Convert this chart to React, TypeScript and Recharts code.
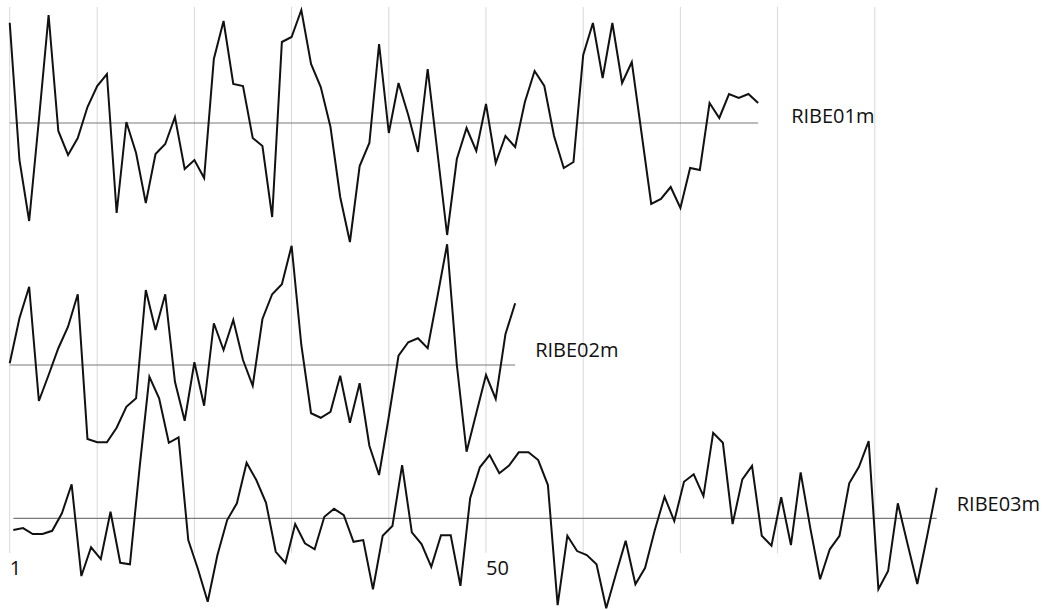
import React from 'react';
import { LineChart, Line, XAxis, YAxis, ReferenceLine, ReferenceDot } from 'recharts';

// Tree-ring index values (mean = 1.0), one value per year
const ribe01m = [
  1.401, 0.852, 0.608, 1.012, 1.432, 0.968, 0.872, 0.94, 1.064, 1.148,
  1.196, 0.64, 1.004, 0.88, 0.68, 0.876, 0.916, 1.024, 0.816, 0.852,
  0.78, 1.256, 1.408, 1.156, 1.148, 0.94, 0.908, 0.624, 1.324, 1.344,
  1.452, 1.236, 1.144, 0.984, 0.704, 0.524, 0.828, 0.92, 1.316, 0.96,
  1.16, 1.032, 0.884, 1.216, 0.884, 0.552, 0.856, 0.98, 0.888, 1.076,
  0.84, 0.948, 0.904, 1.084, 1.208, 1.148, 0.948, 0.82, 0.844, 1.272,
  1.4, 1.18, 1.4, 1.16, 1.244, 0.96, 0.676, 0.696, 0.744, 0.66,
  0.82, 0.812, 1.08, 1.02, 1.116, 1.1, 1.116, 1.08,
];

const ribe02m = [
  1.007, 1.187, 1.313, 0.856, 0.96, 1.067, 1.153, 1.283, 0.704, 0.691,
  0.691, 0.749, 0.833, 0.867, 1.3, 1.14, 1.283, 0.933, 0.777, 1.011,
  0.837, 1.167, 1.06, 1.18, 1.02, 0.917, 1.184, 1.283, 1.323, 1.477,
  1.08, 0.807, 0.789, 0.813, 0.957, 0.769, 0.927, 0.677, 0.56, 0.793,
  1.037, 1.091, 1.107, 1.067, 1.273, 1.483, 1.0, 0.653, 0.807, 0.96,
  0.864, 1.123, 1.247,
];

const ribe03m = [
  0.953, 0.961, 0.937, 0.937, 0.95, 1.02, 1.136, 0.769, 0.884, 0.837,
  1.026, 0.822, 0.816, 1.206, 1.566, 1.48, 1.302, 1.324, 0.913, 0.796,
  0.666, 0.853, 0.993, 1.06, 1.222, 1.153, 1.062, 0.866, 0.822, 0.977,
  0.9, 0.876, 1.006, 1.038, 1.013, 0.906, 0.913, 0.716, 0.93, 0.969,
  1.213, 0.944, 0.897, 0.806, 0.932, 0.932, 0.73, 1.08, 1.204, 1.253,
  1.18, 1.211, 1.264, 1.264, 1.233, 1.133, 0.653, 0.93, 0.869, 0.853,
  0.816, 0.64, 0.777, 0.91, 0.736, 0.802, 0.953, 1.086, 0.989, 1.146,
  1.176, 1.089, 1.342, 1.302, 0.977, 1.156, 1.21, 0.93, 0.89, 1.084,
  0.893, 1.184, 0.96, 0.756, 0.876, 0.93, 1.14, 1.206, 1.309, 0.716,
  0.789, 1.06, 0.897, 0.737, 0.926, 1.122,
];

const seriesNames = ['RIBE01m', 'RIBE02m', 'RIBE03m'];
const gridYears = [1, 10, 20, 30, 40, 50, 60, 70, 80, 90];
const tickYears = [1, 50];

// layout
const W = 1047;
const H = 610;
const PX_PER_YEAR = 9.72;
const PX_PER_UNIT = 250;
const X_MAX = W / PX_PER_YEAR;
const Y_MAX = H / PX_PER_UNIT;
const BASE_PX = [123, 365, 518.3];
const OFFSETS = BASE_PX.map((p) => (H - p) / PX_PER_UNIT);
const STARTS = [1, 1, 1.37];
const GRID_TOP = (H - 7) / PX_PER_UNIT;
const GRID_BOTTOM = (H - 553) / PX_PER_UNIT;
const TICK_LABEL_DY = 22;
const LABEL_SHIFT = [
  { dx: 33, dy: 0 },
  { dx: 20, dy: -7.7 },
  { dx: 20, dy: -7.6 },
];
const FONT = '"Open Sans", sans-serif';
const TEXT_COLOR = '#111';

const series = [ribe01m, ribe02m, ribe03m].map((vals, k) =>
  vals.map((v, i) => ({ x: STARTS[k] + i, y: OFFSETS[k] + v - 1 }))
);

export default function App() {
  return (
    <div style={{ position: 'absolute', left: 0, top: 0, width: W, height: H, background: '#fff' }}>
      <LineChart width={W} height={H} margin={{ top: 0, right: 0, bottom: 0, left: 0 }}>
        <XAxis type="number" dataKey="x" domain={[0, X_MAX]} hide height={0} />
        <YAxis type="number" domain={[0, Y_MAX]} hide width={0} />
        {gridYears.map((yr) => (
          <ReferenceLine
            key={'g' + yr}
            segment={[
              { x: yr, y: GRID_TOP },
              { x: yr, y: GRID_BOTTOM },
            ]}
            stroke="#d8d8d8"
            strokeWidth={1}
          />
        ))}
        {series.map((pts, k) => (
          <ReferenceLine
            key={'b' + k}
            segment={[
              { x: pts[0].x, y: OFFSETS[k] },
              { x: pts[pts.length - 1].x, y: OFFSETS[k] },
            ]}
            stroke="#7a7a7a"
            strokeWidth={1.2}
          />
        ))}
        {series.map((pts, k) => (
          <Line
            key={'l' + k}
            data={pts}
            dataKey="y"
            type="linear"
            stroke="#111"
            strokeWidth={2}
            dot={false}
            activeDot={false}
            isAnimationActive={false}
          />
        ))}
        {tickYears.map((yr) => (
          <ReferenceDot
            key={'t' + yr}
            x={yr}
            y={GRID_BOTTOM}
            r={0}
            stroke="none"
            fill="none"
            label={(p: any) => (
              <text
                x={p.viewBox.x}
                y={p.viewBox.y + TICK_LABEL_DY}
                fontSize={20}
                fontFamily={FONT}
                fill={TEXT_COLOR}
                textAnchor="start"
              >
                {yr}
              </text>
            )}
          />
        ))}
        {series.map((pts, k) => (
          <ReferenceDot
            key={'n' + k}
            x={pts[pts.length - 1].x}
            y={OFFSETS[k]}
            r={0}
            stroke="none"
            fill="none"
            label={(p: any) => (
              <text
                x={p.viewBox.x + LABEL_SHIFT[k].dx}
                y={p.viewBox.y + LABEL_SHIFT[k].dy}
                fontSize={20}
                fontFamily={FONT}
                fill={TEXT_COLOR}
                textAnchor="start"
              >
                {seriesNames[k]}
              </text>
            )}
          />
        ))}
      </LineChart>
    </div>
  );
}
